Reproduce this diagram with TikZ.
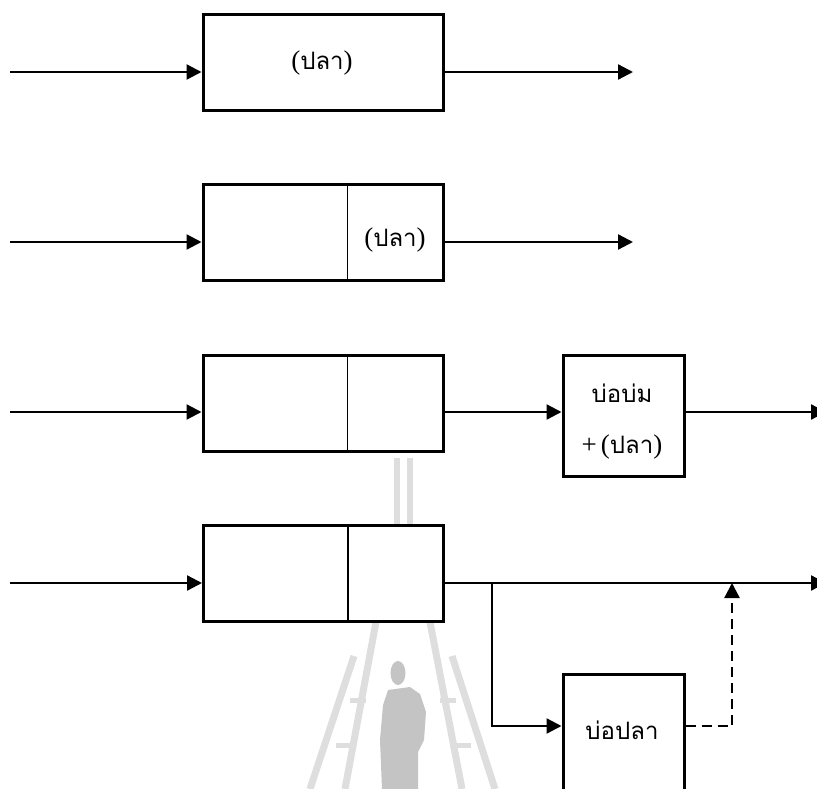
\documentclass[tikz,border=0pt]{standalone}
\usepackage{fontspec}
\newfontfamily\thai[Script=Thai]{Loma}
\newfontfamily\romanpunct{Liberation Serif}
\usetikzlibrary{arrows.meta,calc}
\definecolor{wmrail}{HTML}{DEDEDE}
\definecolor{wmfig}{HTML}{C4C4C4}
% serif brackets and plus around the Thai words
\newcommand\rbopen{{\romanpunct\fontsize{27}{30}\selectfont(}}
\newcommand\rbclose{{\romanpunct\fontsize{27}{30}\selectfont)}}
\newcommand\rbplus{{\romanpunct\fontsize{27}{30}\selectfont+}}
\begin{document}
\begin{tikzpicture}[x=1pt,y=-1pt,
  box/.style={draw,line width=3pt,fill=white,minimum width=240pt,minimum height=96pt,inner sep=0pt},
  pond/.style={draw,line width=3pt,fill=white,minimum width=121pt,minimum height=121pt,inner sep=0pt},
  flow/.style={line width=2.3pt,-{Triangle[length=15pt,width=15pt]}},
  feed/.style={line width=1.7pt},
  divider/.style={line width=1.5pt},
  back/.style={line width=2.3pt,dash pattern=on 10pt off 6pt,-{Triangle[length=15pt,width=15pt]}},
  label/.style={font=\thai\fontsize{24}{28}\selectfont,inner sep=0pt},
  rail/.style={line width=7pt,draw=wmrail},
  rung/.style={line width=5pt,draw=wmrail}
]
\useasboundingbox (0,0) rectangle (817,789);

% faint emblem in the background
\draw[rail,line width=6pt] (396.5,458) -- (396.5,526);
\draw[rail,line width=6pt] (409.5,458) -- (409.5,526);
\draw[rail] (376,622) -- (345,789);
\draw[rail] (354,656) -- (310,789);
\draw[rung] (350,700) -- (366,700);
\draw[rung] (336,745) -- (356,745);
\draw[rail] (430,622) -- (462,789);
\draw[rail] (452,656) -- (495,789);
\draw[rung] (440,700) -- (456,700);
\draw[rung] (450,745) -- (471,745);
\fill[wmfig] (398,673) ellipse (7.5pt and 12pt);
\fill[wmfig] (388,690) -- (410,687) -- (420,694) -- (426,712) -- (424,740)
  -- (418,752) -- (418,789) -- (382,789) -- (380,740) -- (383,705) -- cycle;

% row 1
\node[box] (b1) at (323,63) {};
\node[label] (t1) at (322,63) {\rbopen ปลา\rbclose};
\coordinate (s1) at (10,72);
\coordinate (e1) at (633,72);
\draw[flow] (s1) -- (b1.west |- s1);
\draw[flow] (b1.east |- s1) -- (e1);

% row 2
\node[box] (b2) at (323,232.5) {};
\draw[divider] ($(b2.north west)!0.6!(b2.north east)$) coordinate (d2t)
  -- ($(b2.south west)!0.6!(b2.south east)$) coordinate (d2b);
\node[label] (t2) at (395,240) {\rbopen ปลา\rbclose};
\coordinate (s2) at (10,242);
\coordinate (e2) at (633,242);
\draw[flow] (s2) -- (b2.west |- s2);
\draw[flow] (b2.east |- s2) -- (e2);

% row 3
\node[box] (b3) at (323,403.5) {};
\draw[divider] ($(b3.north west)!0.6!(b3.north east)$) coordinate (d3t)
  -- ($(b3.south west)!0.6!(b3.south east)$) coordinate (d3b);
\node[pond] (p3) at (623.5,415.5) {};
\node[label] (t3a) at (622,393) {บ่อบ่ม};
\node[label] (t3b) at (622,447) {\rbplus\,\rbopen ปลา\rbclose};
\coordinate (s3) at (10,412);
\coordinate (e3) at (826,412);
\draw[flow] (s3) -- (b3.west |- s3);
\draw[flow] (b3.east |- s3) -- (p3.west |- s3);
\draw[flow] (p3.east |- s3) -- (e3);

% row 4
\node[box] (b4) at (323.5,573.5) {};
\draw[divider] ($(b4.north west)!0.6!(b4.north east)$) coordinate (d4t)
  -- ($(b4.south west)!0.6!(b4.south east)$) coordinate (d4b);
\node[pond] (p4) at (623.5,734.5) {};
\node[label] (t4) at (622,730) {บ่อปลา};
\coordinate (s4) at (10,583);
\coordinate (e4) at (826,583);
\coordinate (br) at (492,583);
\coordinate (p4in) at (563,726);
\coordinate (jn) at (732,583);
\draw[flow] (s4) -- (b4.west |- s4);
\draw[flow] (b4.east |- s4) -- (e4);
\draw[feed] (br) |- ($(p4in)+(-14,0)$) coordinate (fd);
\draw[flow] (fd) -- (p4.west |- p4in);
\draw[back] (p4.east |- p4in) -| (jn);
\end{tikzpicture}
\end{document}
